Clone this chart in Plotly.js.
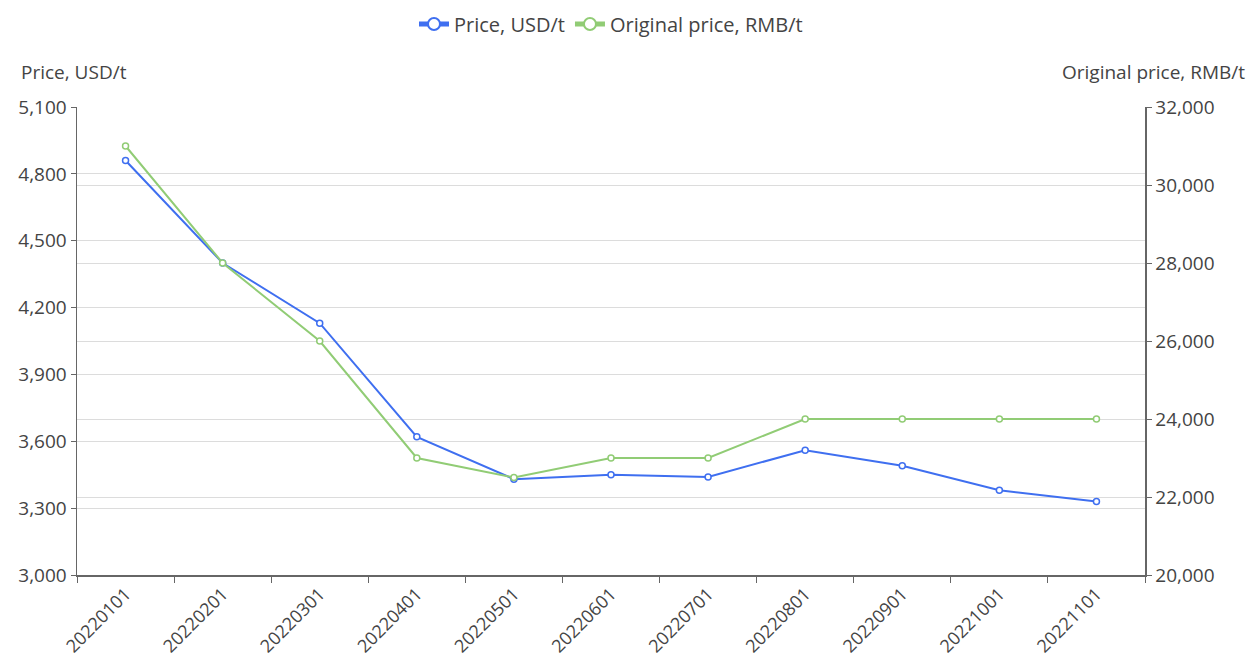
<!DOCTYPE html>
<html>
<head>
<meta charset="utf-8">
<script src="https://cdn.plot.ly/plotly-3.0.1.min.js"></script>
<style>html,body{margin:0;padding:0;background:#fff;}#chart{width:1250px;height:662px;}</style>
</head>
<body>
<div id="chart"></div>
<script>
const categories = ["20220101","20220201","20220301","20220401","20220501","20220601","20220701","20220801","20220901","20221001","20221101"];
const priceUSD = [4860, 4400, 4130, 3620, 3430, 3450, 3440, 3560, 3490, 3380, 3330];
const priceRMB = [31000, 28000, 26000, 23000, 22500, 23000, 23000, 24000, 24000, 24000, 24000];
const leftTicks = [3000, 3300, 3600, 3900, 4200, 4500, 4800, 5100];
const rightTicks = [20000, 22000, 24000, 26000, 28000, 30000, 32000];

const blue = "#3f6ff0";
const green = "#91cc75";
const fontFam = "'Open Sans', 'Noto Sans', sans-serif";

const traces = [
  {
    x: categories, y: priceUSD, name: "Price, USD/t", type: "scatter", mode: "lines+markers",
    line: {color: blue, width: 2},
    marker: {symbol: "circle", size: 6, color: "#fff", line: {color: blue, width: 1.5}},
    yaxis: "y"
  },
  {
    x: categories, y: priceRMB, name: "Original price, RMB/t", type: "scatter", mode: "lines+markers",
    line: {color: green, width: 2},
    marker: {symbol: "circle", size: 6, color: "#fff", line: {color: green, width: 1.5}},
    yaxis: "y2"
  }
];

const layout = {
  width: 1250, height: 662,
  margin: {l: 77, r: 105, t: 107, b: 87},
  paper_bgcolor: "#fff", plot_bgcolor: "#fff",
  font: {family: fontFam, size: 19, color: "#555"},
  showlegend: true,
  legend: {orientation: "h", x: 0.5, xanchor: "center", y: 1 - 24 / 662, yref: "container", yanchor: "middle",
           font: {size: 20, color: "#444"}, itemsizing: "constant"},
  xaxis: {
    type: "category", range: [-0.5, categories.length - 0.5], tickson: "boundaries",
    ticks: "outside", ticklen: 6, tickcolor: "#666",
    showline: true, linecolor: "#666", linewidth: 1.5, showgrid: false, tickangle: -45,
    tickfont: {size: 18, color: "#444"}, automargin: false
  },
  yaxis: {
    range: [3000, 5100], tickvals: leftTicks, tickformat: ",d", ticks: "outside", ticklen: 5,
    tickcolor: "#666", showline: true, linecolor: "#666", linewidth: 1.5,
    showgrid: true, gridcolor: "#dcdcdc", gridwidth: 1, zeroline: false,
    tickfont: {size: 19, color: "#444"}, automargin: false
  },
  yaxis2: {
    range: [20000, 32000], tickvals: rightTicks, tickformat: ",d", overlaying: "y", side: "right",
    ticks: "outside", ticklen: 5, tickcolor: "#666", showline: true, linecolor: "#666", linewidth: 1.5,
    showgrid: true, gridcolor: "#dcdcdc", gridwidth: 1, zeroline: false,
    tickfont: {size: 19, color: "#444"}, automargin: false
  },
  annotations: [
    {text: "Price, USD/t", xref: "paper", yref: "paper", x: 0, y: 1, xshift: -58, yshift: 35,
     xanchor: "left", yanchor: "middle", showarrow: false, font: {size: 19, color: "#444"}},
    {text: "Original price, RMB/t", xref: "paper", yref: "paper", x: 1, y: 1, xshift: 102, yshift: 35,
     xanchor: "right", yanchor: "middle", showarrow: false, font: {size: 19, color: "#444"}}
  ]
};

Plotly.newPlot("chart", traces, layout, {displayModeBar: false, staticPlot: true});
</script>
</body>
</html>
